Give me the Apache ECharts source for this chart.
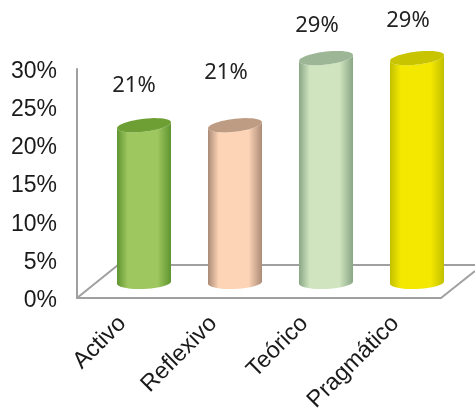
<!DOCTYPE html>
<html><head><meta charset="utf-8">
<style>html,body{margin:0;padding:0;background:#fff}#c{width:475px;height:410px}</style>
<script src="https://cdn.jsdelivr.net/npm/echarts@6/dist/echarts.min.js"></script>
</head><body><div id="c"></div>
<script>
const categories = ['Activo', 'Reflexivo', 'Teórico', 'Pragmático'];
const values = [20.6, 20.6, 29.4, 29.4];
const yTicks = [0, 5, 10, 15, 20, 25, 30];

const palette = [
  {edge:'#5f9430', mid:'#9fc75f', top:'#6e9f35'},
  {edge:'#ab8b76', mid:'#fdd4b6', top:'#be9b83'},
  {edge:'#8aa685', mid:'#cfe4bf', top:'#9db696'},
  {edge:'#c2c000', mid:'#f4e800', top:'#c8c500'}
];
const labelShift = [[-10,-40],[-9,-53],[-9,-32],[-9,-37]];
const DX = 21.5, DY = 15.5, RX = 27, RY = 6.5, TILT = 0.11;

function ellipsePt(cx, cy, t, tilt, ry) {
  const x = RX * Math.cos(t), y = ry * Math.sin(t);
  return [cx + x, cy + y - x * tilt];
}
function renderBar(params, api) {
  const i = api.value(0), v = api.value(1);
  const top = api.coord([i, v]), base = api.coord([i, 0]);
  const cx = top[0] + DX, ty = top[1] - DY, by = base[1] - DY;
  const c = palette[i], pts = [];
  for (let k = 0; k <= 24; k++) pts.push(ellipsePt(cx, ty, Math.PI - Math.PI * k / 24, TILT, RY));
  for (let k = 0; k <= 24; k++) pts.push(ellipsePt(cx, by, Math.PI * k / 24, 0.04, RY));
  const capPts = [];
  for (let k = 0; k < 48; k++) capPts.push(ellipsePt(cx, ty, 2 * Math.PI * k / 48, TILT, RY));
  const grad = new echarts.graphic.LinearGradient(0, 0, 1, 0, [
    {offset:0, color:c.edge},{offset:0.2, color:c.mid},{offset:0.75, color:c.mid},{offset:1, color:c.edge}
  ]);
  const s = labelShift[i];
  return {type:'group', children:[
    {type:'polygon', shape:{points:pts}, style:{fill:grad}},
    {type:'polygon', shape:{points:capPts}, style:{fill:c.top}},
    {type:'text', style:{text:Math.round(v)+'%', x:cx + s[0], y:ty + s[1], align:'center', verticalAlign:'middle',
      fill:'#222', font:'22px "Noto Sans"'}}
  ]};
}
function renderFloor(params, api) {
  const o = api.coord([0, 0]);
  const cs = params.coordSys;
  const L = cs.x, R = cs.x + cs.width, Y = o[1];
  const st = {stroke:'#a0a0a0', lineWidth:2, fill:null};
  return {type:'group', silent:true, children:[
    {type:'polyline', shape:{points:[[L,Y],[L+41,Y-33],[475,Y-33]]}, style:st},
    {type:'line', shape:{x1:R,y1:Y,x2:R+34,y2:Y-27}, style:st}
  ]};
}
const chart = echarts.init(document.getElementById('c'));
chart.setOption({
  animation:false, backgroundColor:'#fff',
  grid:{left:77, right:34, top:69, height:229, outerBoundsMode:'none'},
  xAxis:{type:'category', data:categories,
    axisLine:{lineStyle:{color:'#a0a0a0', width:2}}, axisTick:{show:false},
    axisLabel:{rotate:45, margin:22, fontSize:23.5, color:'#1a1a1a', fontFamily:'Liberation Sans', interval:0}},
  yAxis:{type:'value', min:yTicks[0], max:yTicks[yTicks.length-1], interval:5,
    axisLine:{show:true, lineStyle:{color:'#a0a0a0', width:2}}, axisTick:{show:false},
    splitLine:{show:false},
    axisLabel:{margin:20, color:'#1a1a1a', formatter:'{a|{value}%}',
      rich:{a:{fontSize:23, fontFamily:'Liberation Sans', color:'#1a1a1a', lineHeight:23, padding:[5,0,0,0]}}}},
  series:[
    {type:'custom', renderItem:renderFloor, data:[[0,0]], clip:false, z:1, silent:true},
    {type:'custom', renderItem:renderBar, data:values.map((v,i)=>[i,v]), clip:false, z:2,
     encode:{x:0,y:1}}
  ]
});
</script></body></html>
